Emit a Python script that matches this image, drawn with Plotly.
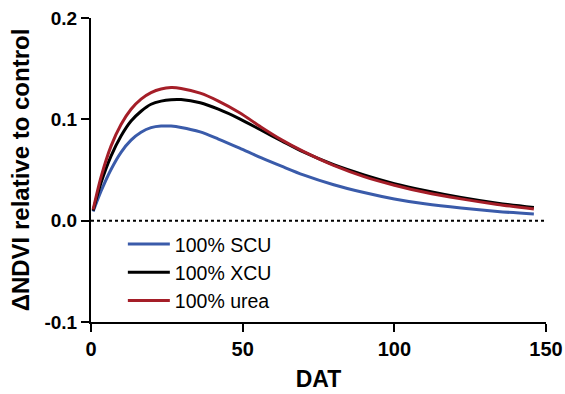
import plotly.graph_objects as go

dat = [0.7, 3.3, 6.6, 9.9, 13.2, 16.5, 19.8, 23.1, 26.4, 29.7, 36, 42, 49, 56, 63, 70, 80, 90, 100,
       110, 122, 134, 146]
scu = [0.009, 0.029, 0.0505, 0.0675, 0.0795, 0.0873, 0.0918, 0.0934, 0.0933, 0.0920, 0.0876, 0.0805,
       0.0715, 0.0622, 0.0535, 0.0452, 0.0355, 0.0278, 0.0214, 0.0166, 0.0124, 0.0091, 0.0066]
xcu = [0.010, 0.0373, 0.0637, 0.0835, 0.0983, 0.1080, 0.1149, 0.1180, 0.1194, 0.1195, 0.1163, 0.1100,
       0.1005, 0.0895, 0.0785, 0.0678, 0.0552, 0.0452, 0.0366, 0.0297, 0.0228, 0.0172, 0.0129]
urea = [0.011, 0.0430, 0.0736, 0.0950, 0.1100, 0.1200, 0.1264, 0.1300, 0.1313, 0.1305, 0.1258, 0.1180,
        0.1065, 0.0925, 0.0795, 0.0683, 0.0545, 0.0435, 0.0350, 0.0280, 0.0215, 0.0160, 0.0116]

series = [("100% SCU", scu, "#3A5BAA"), ("100% XCU", xcu, "#000000"), ("100% urea", urea, "#A51E28")]
x_ticks = [0, 50, 100, 150]
y_ticks = [-0.1, 0.0, 0.1, 0.2]
y_tick_text = ["-0.1", "0.0", "0.1", "0.2"]

fig = go.Figure()
for name, vals, col in series:
    fig.add_trace(go.Scatter(x=dat, y=vals, mode="lines", name=name, legendgroup=name,
                             line=dict(color=col, width=3, shape="spline", smoothing=0.8)))

fig.add_shape(type="line", xref="x", yref="y", x0=0, x1=150, y0=0, y1=0,
              line=dict(color="black", width=2, dash="dot"), layer="below")

font_family = "Liberation Sans, Arial, sans-serif"
fig.update_layout(
    width=565, height=394,
    margin=dict(l=91, r=19, t=18, b=72, autoexpand=False),
    paper_bgcolor="white", plot_bgcolor="white",
    font=dict(family=font_family, color="black"),
    showlegend=True,
    legend=dict(x=0.07, y=0.32, xanchor="left", yanchor="top",
                font=dict(size=19.5, family=font_family, color="black"),
                bgcolor="rgba(0,0,0,0)", tracegroupgap=0, traceorder="grouped", itemwidth=42),
    xaxis=dict(range=[0, 150], tickvals=x_ticks, showgrid=False, zeroline=False, automargin=False,
               showline=True, linecolor="black", linewidth=2, ticks="outside", ticklen=8,
               tickwidth=2, tickcolor="black",
               tickfont=dict(size=20, family=font_family, weight="bold"),
               title=dict(text="<b>DAT</b>", font=dict(size=23, family=font_family), standoff=12)),
    yaxis=dict(range=[-0.1, 0.2], tickvals=y_ticks, ticktext=y_tick_text, showgrid=False,
               zeroline=False, showline=True, linecolor="black", linewidth=2, ticks="outside",
               automargin=False, ticklen=8, tickwidth=2, tickcolor="black",
               tickfont=dict(size=19, family=font_family, weight="bold"),
               title=dict(text="<b>ΔNDVI relative to control</b>", font=dict(size=24, family=font_family),
                          standoff=8)),
)

fig.write_html("out.html")
